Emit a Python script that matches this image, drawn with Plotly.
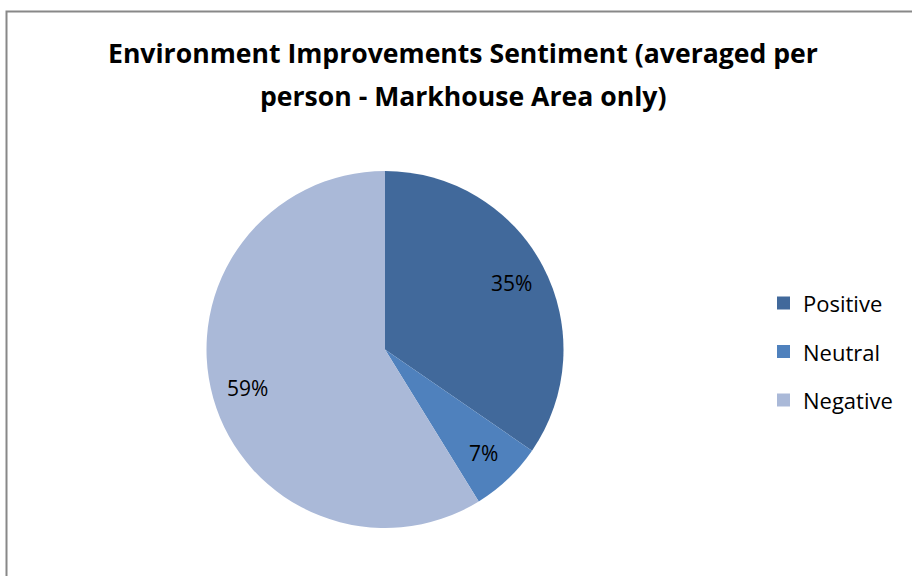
import math
import plotly.graph_objects as go

# Sentiment shares (per-person average, Markhouse Area)
categories = ["Positive", "Neutral", "Negative"]
shares = [34.6, 6.6, 58.8]
colors = ["#41699B", "#4F81BD", "#AAB9D8"]

title_lines = [
    "Environment Improvements Sentiment (averaged per",
    "person - Markhouse Area only)",
]

W, H = 912, 576
FONT = "'Open Sans', Lato, sans-serif"

# Pie placement in pixels
CX, CY, R = 385.0, 349.5, 178.5

fig = go.Figure()

fig.add_trace(go.Pie(
    labels=categories,
    values=shares,
    marker=dict(colors=colors, line=dict(width=0)),
    sort=False,
    direction="clockwise",
    rotation=0,
    textinfo="none",
    showlegend=False,
    hoverinfo="label+percent",
    domain=dict(x=[(CX - R) / W, (CX + R) / W], y=[1 - (CY + R) / H, 1 - (CY - R) / H]),
))

# Percentage labels placed at each slice's mid-angle
total = sum(shares)
start = 0.0
for val in shares:
    frac = val / total
    mid = (start + frac / 2) * 2 * math.pi
    start += frac
    px = CX + 0.8 * R * math.sin(mid)
    py = CY - 0.8 * R * math.cos(mid)
    fig.add_annotation(
        text=f"{round(frac * 100)}%", xref="paper", yref="paper",
        x=px / W, y=1 - py / H, xanchor="center", yanchor="middle",
        showarrow=False, font=dict(family=FONT, size=21, color="#000000"),
    )

# Outer chart frame
fig.add_shape(type="rect", xref="paper", yref="paper",
              x0=6.5 / W, x1=1.02, y0=-0.02, y1=1 - 11.5 / H,
              line=dict(color="#888888", width=2), fillcolor="rgba(0,0,0,0)")

# Title (two lines)
for i, line in enumerate(title_lines):
    fig.add_annotation(
        text=f"<b>{line}</b>", xref="paper", yref="paper",
        x=463 / W, y=1 - (53 + 42.5 * i) / H, xanchor="center", yanchor="middle",
        showarrow=False, font=dict(family=FONT, size=26.6, color="#000000"),
    )

# Legend: swatch + label per category
for i, (cat, col) in enumerate(zip(categories, colors)):
    yc = 303 + 48.5 * i
    fig.add_shape(type="rect", xref="paper", yref="paper",
                  x0=777 / W, x1=790 / W, y0=1 - (yc + 6.5) / H, y1=1 - (yc - 6.5) / H,
                  line=dict(width=0), fillcolor=col)
    fig.add_annotation(
        text=cat, xref="paper", yref="paper",
        x=801 / W, y=1 - yc / H, xanchor="left", yanchor="middle",
        showarrow=False, font=dict(family=FONT, size=22, color="#000000"),
    )

fig.update_layout(
    width=W, height=H,
    margin=dict(l=0, r=0, t=0, b=0),
    paper_bgcolor="#FFFFFF",
    plot_bgcolor="#FFFFFF",
    font=dict(family=FONT),
)

fig.write_html("out.html", include_plotlyjs=True, config={"displayModeBar": False})
